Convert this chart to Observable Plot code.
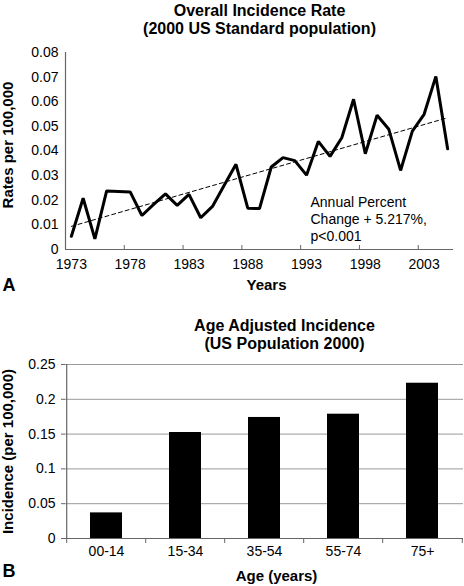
<!DOCTYPE html>
<html><head><meta charset="utf-8">
<script src="https://cdn.jsdelivr.net/npm/d3@7"></script>
<script src="https://cdn.jsdelivr.net/npm/@observablehq/plot@0.6"></script>
<style>
body{margin:0;background:#fff;font-family:"Liberation Sans",Arial,Helvetica,sans-serif;}
#wrap{width:464px;}
svg{display:block}
</style></head><body><div id="wrap"></div>
<script>
// ---- Panel A data ----
const years = [1973,1974,1975,1976,1977,1978,1979,1980,1981,1982,1983,1984,1985,1986,1987,1988,1989,1990,1991,1992,1993,1994,1995,1996,1997,1998,1999,2000,2001,2002,2003,2004,2005];
const rates = [0.0054,0.0208,0.0043,0.0238,0.0236,0.0234,0.0138,0.0183,0.0226,0.0179,0.0224,0.0129,0.0175,0.0261,0.0346,0.0168,0.0166,0.0335,0.0373,0.0361,0.0302,0.0439,0.0378,0.0454,0.0610,0.0389,0.0545,0.0488,0.0321,0.0481,0.0549,0.0703,0.0409];
const trendYears = [1973, 2005];
const trendRates = [0.0094, 0.0535];
const yTicksA = [0,0.01,0.02,0.03,0.04,0.05,0.06,0.07,0.08];
const xLabelYears = [1973,1978,1983,1988,1993,1998,2003];
const titleA = "Overall Incidence Rate\n(2000 US Standard population)";
const noteA = "Annual Percent\nChange + 5.217%,\np<0.001";

// ---- Panel B data ----
const ageGroups = ["00-14","15-34","35-54","55-74","75+"];
const incidence = [0.0368,0.1523,0.1739,0.1786,0.2231];
const yTicksB = [0,0.05,0.1,0.15,0.2,0.25];
const titleB = "Age Adjusted Incidence\n(US Population 2000)";

const FONT = '"Liberation Sans", Arial, Helvetica, sans-serif';
const AX = "#666";

const lineData = years.map((y,i)=>({year:y, rate:rates[i]}));
const trendData = trendYears.map((y,i)=>({year:y, rate:trendRates[i]}));
const barData = ageGroups.map((a,i)=>({age:a, value:incidence[i]}));

const A = Plot.plot({
  width: 464, height: 298,
  marginTop: 52, marginBottom: 49, marginLeft: 65, marginRight: 11,
  style: {fontFamily: FONT, fontSize: "14px", background: "white", color: "black", overflow: "visible"},
  x: {type: "linear", domain: [years[0]-0.5, years[years.length-1]+0.5]},
  y: {domain: [0, 0.08]},
  marks: [
    Plot.axisY({ticks: yTicksA, tickSize: 0, tickPadding: 7, tickFormat: d => String(d), label: null, fontSize: 14}),
    Plot.axisX({ticks: xLabelYears, tickSize: 0, tickPadding: 10, tickFormat: d => String(d), label: null, fontSize: 14}),
    Plot.axisX({ticks: xLabelYears.slice(1).map(d => d - 0.5), tickSize: -4, tickFormat: () => "", stroke: AX, label: null}),
    Plot.ruleY([0], {stroke: AX, strokeWidth: 1.2}),
    Plot.ruleX([years[0]-0.5], {stroke: AX, strokeWidth: 1.2}),
    Plot.line(trendData, {x: "year", y: "rate", stroke: "black", strokeWidth: 1, strokeDasharray: "4,3"}),
    Plot.line(lineData, {x: "year", y: "rate", stroke: "black", strokeWidth: 3, strokeLinejoin: "miter"}),
    Plot.text([titleA], {text: d => d, frameAnchor: "top", textAnchor: "middle", lineAnchor: "middle", dy: -33, fontSize: 16, fontWeight: "bold", lineHeight: 1.125}),
    Plot.text(["Rates per 100,000"], {text: d => d, frameAnchor: "left", textAnchor: "middle", lineAnchor: "middle", rotate: -90, dx: -57, dy: -6, fontSize: 15, fontWeight: "bold"}),
    Plot.text(["Years"], {text: d => d, frameAnchor: "bottom", textAnchor: "middle", lineAnchor: "middle", dx: 7, dy: 36, fontSize: 15, fontWeight: "bold"}),
    Plot.text(["A"], {text: d => d, frameAnchor: "bottom-left", textAnchor: "start", lineAnchor: "middle", dx: -63, dy: 36, fontSize: 18, fontWeight: "bold"}),
    Plot.text([noteA], {text: d => d, frameAnchor: "bottom-right", textAnchor: "start", lineAnchor: "middle", dx: -143, dy: -31, fontSize: 14, lineHeight: 1.21})
  ]
});

const half = (464 - 65 - 1) / ageGroups.length / 2;
const B = Plot.plot({
  width: 464, height: 288,
  marginTop: 66, marginBottom: 48, marginLeft: 65, marginRight: 1,
  style: {fontFamily: FONT, fontSize: "14px", background: "white", color: "black", overflow: "visible"},
  x: {type: "band", domain: ageGroups, paddingInner: 0.6, paddingOuter: 0.3},
  y: {domain: [0, 0.25]},
  marks: [
    Plot.gridY(yTicksB, {stroke: "#999", strokeOpacity: 1}),
    Plot.barY(barData, {x: "age", y: "value", fill: "black"}),
    Plot.axisY({ticks: yTicksB, tickSize: 4, tickPadding: 6, stroke: AX, tickFormat: d => String(d), label: null, fontSize: 14}),
    Plot.axisX({tickSize: 0, tickPadding: 8, label: null, fontSize: 14}),
    Plot.ruleX(ageGroups, {x: d => d, dx: -half, insetTop: 174, insetBottom: -5, stroke: AX}),
    Plot.ruleX([ageGroups[ageGroups.length-1]], {x: d => d, dx: half, insetTop: 174, insetBottom: -5, stroke: AX}),
    Plot.ruleX([ageGroups[0]], {x: d => d, dx: -half, stroke: AX, strokeWidth: 1.2}),
    Plot.ruleY([0], {stroke: AX, strokeWidth: 1.2}),
    Plot.text([titleB], {text: d => d, frameAnchor: "top", textAnchor: "middle", lineAnchor: "middle", dx: 20, dy: -30, fontSize: 16, fontWeight: "bold", lineHeight: 1.125}),
    Plot.text(["Incidence (per 100,000)"], {text: d => d, frameAnchor: "left", textAnchor: "middle", lineAnchor: "middle", rotate: -90, dx: -57, fontSize: 15, fontWeight: "bold"}),
    Plot.text(["Age (years)"], {text: d => d, frameAnchor: "bottom", textAnchor: "middle", lineAnchor: "middle", dx: 12, dy: 38, fontSize: 15, fontWeight: "bold"}),
    Plot.text(["B"], {text: d => d, frameAnchor: "bottom-left", textAnchor: "start", lineAnchor: "middle", dx: -63, dy: 33, fontSize: 18, fontWeight: "bold"})
  ]
});

const wrap = document.getElementById("wrap");
wrap.appendChild(A);
wrap.appendChild(B);
</script>
</body></html>
